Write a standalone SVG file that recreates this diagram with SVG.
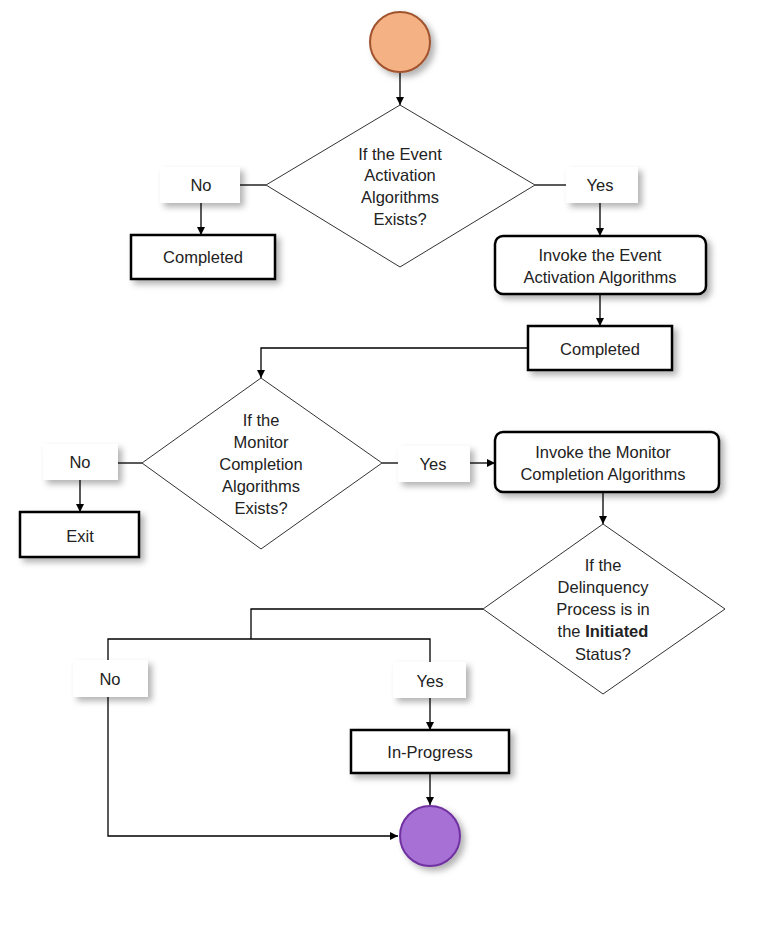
<svg xmlns="http://www.w3.org/2000/svg" width="758" height="926" viewBox="0 0 758 926">
<defs>
<filter id="sh" x="-20%" y="-20%" width="150%" height="150%"><feDropShadow dx="4" dy="4" stdDeviation="3" flood-color="#000" flood-opacity="0.3"/></filter>
<marker id="ar" viewBox="0 0 10 10" refX="10" refY="5" markerWidth="8" markerHeight="8" markerUnits="userSpaceOnUse" orient="auto"><path d="M0,0 L10,5 L0,10 z" fill="#000"/></marker>
<style>
text{font-family:"Liberation Sans",Arial,sans-serif;font-size:16.5px;fill:#222;text-anchor:middle}
.lbl{fill:#fff;stroke:none;filter:url(#sh)}
.box{fill:#fff;stroke:#000;stroke-width:2.5;filter:url(#sh)}
.dia{fill:#fff;stroke:#333;stroke-width:1}
.c{fill:none;stroke:#000;stroke-width:1.3}
.a{marker-end:url(#ar)}
</style>
</defs>
<g id="connectors">
<line class="c a" x1="400" y1="72" x2="400" y2="105"/>
<line class="c" x1="266" y1="185" x2="240" y2="185"/>
<line class="c a" x1="201" y1="203" x2="201" y2="235"/>
<line class="c" x1="535" y1="185" x2="566" y2="185"/>
<line class="c a" x1="600" y1="203" x2="600" y2="236"/>
<line class="c a" x1="600" y1="294" x2="600" y2="326"/>
<polyline class="c a" points="528,348 261,348 261,378"/>
<line class="c" x1="142" y1="463" x2="118" y2="463"/>
<line class="c a" x1="80" y1="480" x2="80" y2="512"/>
<line class="c" x1="382" y1="463" x2="398" y2="463"/>
<line class="c a" x1="470" y1="463" x2="495" y2="463"/>
<line class="c a" x1="603" y1="492" x2="603" y2="524"/>
<polyline class="c" points="483,609 251,609 251,639"/>
<polyline class="c" points="108,660 108,639 430,639 430,662"/>
<line class="c a" x1="430" y1="698" x2="430" y2="730"/>
<line class="c a" x1="430" y1="773" x2="430" y2="805"/>
<polyline class="c a" points="108,697 108,836 398,836"/>
</g>
<g id="start"><circle cx="400" cy="42" r="30" fill="#F4B183" stroke="#A0522D" stroke-width="2" filter="url(#sh)"/></g>
<g id="d1"><polygon class="dia" points="400,105 535,185 400,267 266,185"/>
<text x="400" y="160">If the Event</text><text x="400" y="181">Activation</text><text x="400" y="203">Algorithms</text><text x="400" y="225">Exists?</text></g>
<g id="no1"><rect class="lbl" x="160" y="167" width="80" height="36"/><text x="201" y="191">No</text></g>
<g id="completed1"><rect class="box" x="131" y="235" width="144" height="44"/><text x="203" y="263">Completed</text></g>
<g id="yes1"><rect class="lbl" x="566" y="167" width="72" height="36"/><text x="600" y="191">Yes</text></g>
<g id="invoke1"><rect class="box" x="495" y="236" width="211" height="58" rx="8"/><text x="600" y="261">Invoke the Event</text><text x="600" y="283">Activation Algorithms</text></g>
<g id="completed2"><rect class="box" x="528" y="326" width="144" height="44"/><text x="600" y="355">Completed</text></g>
<g id="d2"><polygon class="dia" points="261,378 382,463 261,549 142,463"/>
<text x="261" y="426">If the</text><text x="261" y="448">Monitor</text><text x="261" y="470">Completion</text><text x="261" y="492">Algorithms</text><text x="261" y="514">Exists?</text></g>
<g id="no2"><rect class="lbl" x="43" y="444" width="75" height="36"/><text x="80" y="468">No</text></g>
<g id="exit"><rect class="box" x="20" y="512" width="119" height="45"/><text x="80" y="542">Exit</text></g>
<g id="yes2"><rect class="lbl" x="398" y="446" width="72" height="36"/><text x="433" y="470">Yes</text></g>
<g id="invoke2"><rect class="box" x="495" y="432" width="224" height="60" rx="8"/><text x="603" y="458">Invoke the Monitor</text><text x="603" y="480">Completion Algorithms</text></g>
<g id="d3"><polygon class="dia" points="603,524 725,609 603,694 483,609"/>
<text x="603" y="571">If the</text><text x="603" y="593">Delinquency</text><text x="603" y="615">Process is in</text><text x="603" y="637">the <tspan font-weight="bold">Initiated</tspan></text><text x="603" y="660">Status?</text></g>
<g id="no3"><rect class="lbl" x="73" y="660" width="75" height="37"/><text x="110" y="685">No</text></g>
<g id="yes3"><rect class="lbl" x="393" y="662" width="73" height="36"/><text x="430" y="687">Yes</text></g>
<g id="inprogress"><rect class="box" x="351" y="730" width="158" height="43"/><text x="430" y="758">In-Progress</text></g>
<g id="end"><circle cx="430" cy="836" r="30" fill="#A66FD5" stroke="#7030A0" stroke-width="2" filter="url(#sh)"/></g>
</svg>
